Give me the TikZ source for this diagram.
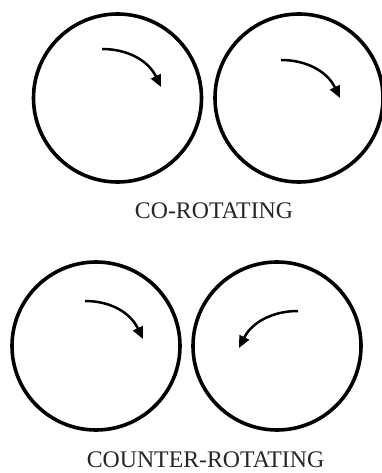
\documentclass[tikz,border=0pt]{standalone}
\usepackage{fontspec}
\setmainfont{Liberation Serif}
\usetikzlibrary{arrows.meta,calc}
\begin{document}
\begin{tikzpicture}[x=1pt,y=-1pt,
  roller/.style={draw,circle,line width=3.6pt,minimum size=168pt,inner sep=0pt},
  rot/.style={line width=2.5pt,-{Triangle[length=12pt,width=10.5pt]}},
  caption/.style={anchor=base,inner sep=0pt,font=\fontsize{23.8}{28}\selectfont,text=black!85}]
\useasboundingbox (0,0) rectangle (382,473);
% co-rotating
\node[roller] (c1) at (117.5,98) {};
\node[roller] (c2) at (299,98) {};
\coordinate (a1s) at (102,49); \coordinate (a1e) at (161,87);
\coordinate (a2s) at (281,60); \coordinate (a2e) at (340,98);
\draw[rot] (a1s) .. controls ($(a1s)+(25,0)$) and ($(a1s)+(46,11)$) .. (a1e);
\draw[rot] (a2s) .. controls ($(a2s)+(25,0)$) and ($(a2s)+(46,11)$) .. (a2e);
\node[caption] (t1) at (214,218) {CO-ROTATING};
% counter-rotating
\node[roller] (c3) at (96,346) {};
\node[roller] (c4) at (277,346) {};
\coordinate (b1s) at (85,301); \coordinate (b1e) at (143,339);
\coordinate (b2s) at (298,311); \coordinate (b2e) at (239,348);
\draw[rot] (b1s) .. controls ($(b1s)+(25,0)$) and ($(b1s)+(45,11)$) .. (b1e);
\draw[rot] (b2s) .. controls ($(b2s)+(-25,0)$) and ($(b2s)+(-46,11)$) .. (b2e);
\node[caption] (t2) at (205.5,467) {COUNTER-ROTATING};
\end{tikzpicture}
\end{document}
